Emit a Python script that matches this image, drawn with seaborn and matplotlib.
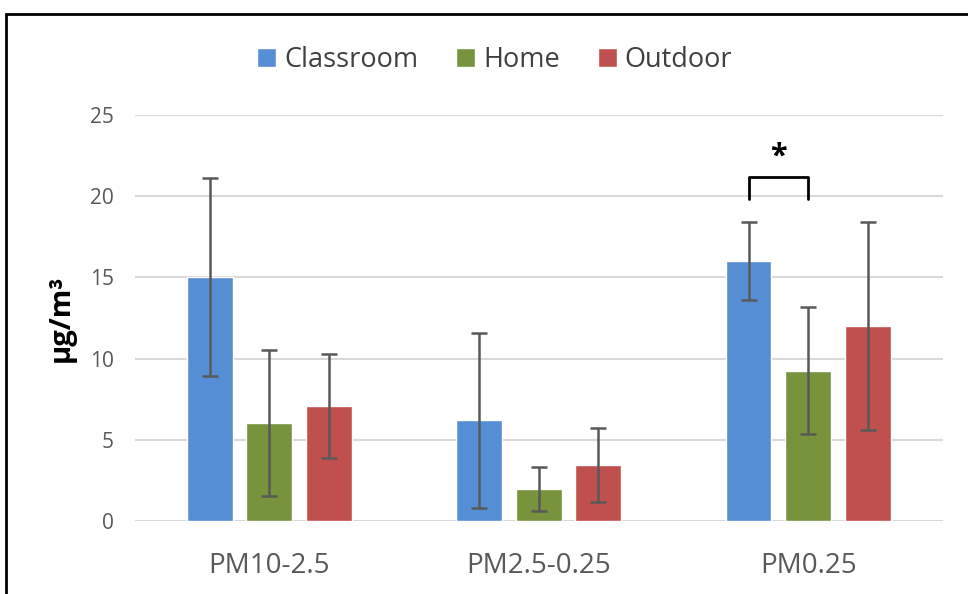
import numpy as np
import pandas as pd
import seaborn as sns
import matplotlib.pyplot as plt
from matplotlib.patches import Rectangle

fractions = ['PM10-2.5', 'PM2.5-0.25', 'PM0.25']
locations = ['Classroom', 'Home', 'Outdoor']
classroom = [15.0, 6.2, 16.0]
home = [6.05, 1.95, 9.25]
outdoor = [7.1, 3.45, 12.0]
classroom_err = [6.1, 5.4, 2.4]
home_err = [4.5, 1.35, 3.9]
outdoor_err = [3.2, 2.3, 6.4]
colors = ['#558ED5', '#77933C', '#C0504D']

df = pd.DataFrame({
    'fraction': fractions * 3,
    'location': np.repeat(locations, 3),
    'value': classroom + home + outdoor,
    'err': classroom_err + home_err + outdoor_err,
})

sns.set_style('white')
plt.rcParams['font.family'] = ['Open Sans', 'DejaVu Sans']

fig = plt.figure(figsize=(9.68, 5.94), dpi=100)
ax = fig.add_axes([0.139, 0.1229, 0.835, 0.6835])

sns.barplot(data=df, x='fraction', y='value', hue='location', palette=colors,
            saturation=1, width=0.663, gap=0.23, errorbar=None, ax=ax)

# error bars from the precomputed values
for cont, loc in zip(ax.containers, locations):
    sub = df[df['location'] == loc]
    xs = [p.get_x() + p.get_width() / 2 for p in cont.patches]
    ax.errorbar(xs, sub['value'], yerr=sub['err'], fmt='none', ecolor='#595959',
                elinewidth=1.8, capsize=5.5, capthick=1.8, zorder=5)

# significance bracket
p0 = ax.containers[0].patches[2]
p1 = ax.containers[1].patches[2]
x0 = p0.get_x() + p0.get_width() / 2
x1 = p1.get_x() + p1.get_width() / 2
ax.plot([x0, x0, x1, x1], [19.8, 21.2, 21.2, 19.8], color='black', lw=2, zorder=6)
ax.text((x0 + x1) / 2, 21.5, '*', ha='center', va='bottom', fontsize=22,
        fontweight='bold', color='black')

ax.set_ylim(0, 25)
ax.set_xlim(-0.5, 2.5)
ax.set_yticks([0, 5, 10, 15, 20, 25])
ax.yaxis.grid(True, color='#D9D9D9', lw=1.5)
ax.set_axisbelow(True)
for s in ax.spines.values():
    s.set_visible(False)
ax.tick_params(axis='y', length=0, pad=15, labelsize=15, labelcolor='#595959')
ax.tick_params(axis='x', length=0, pad=22, labelsize=20, labelcolor='#595959')
ax.set_xlabel('')
ax.set_ylabel('µg/m³', fontsize=21, fontweight='bold', color='black', labelpad=10)

handles, labels = ax.get_legend_handles_labels()
ax.get_legend().remove()
fig.legend(handles, labels, loc='center', bbox_to_anchor=(0.511, 0.899), ncol=3,
           frameon=False, fontsize=19.5, labelcolor='#404040', handlelength=0.7,
           handleheight=0.7, handletextpad=0.3, columnspacing=1.4)

fig.patches.append(Rectangle((0.006, -0.05), 1.1, 1.026, transform=fig.transFigure,
                             fill=False, edgecolor='black', lw=2, clip_on=False))

fig.savefig('out.png', dpi=100)
